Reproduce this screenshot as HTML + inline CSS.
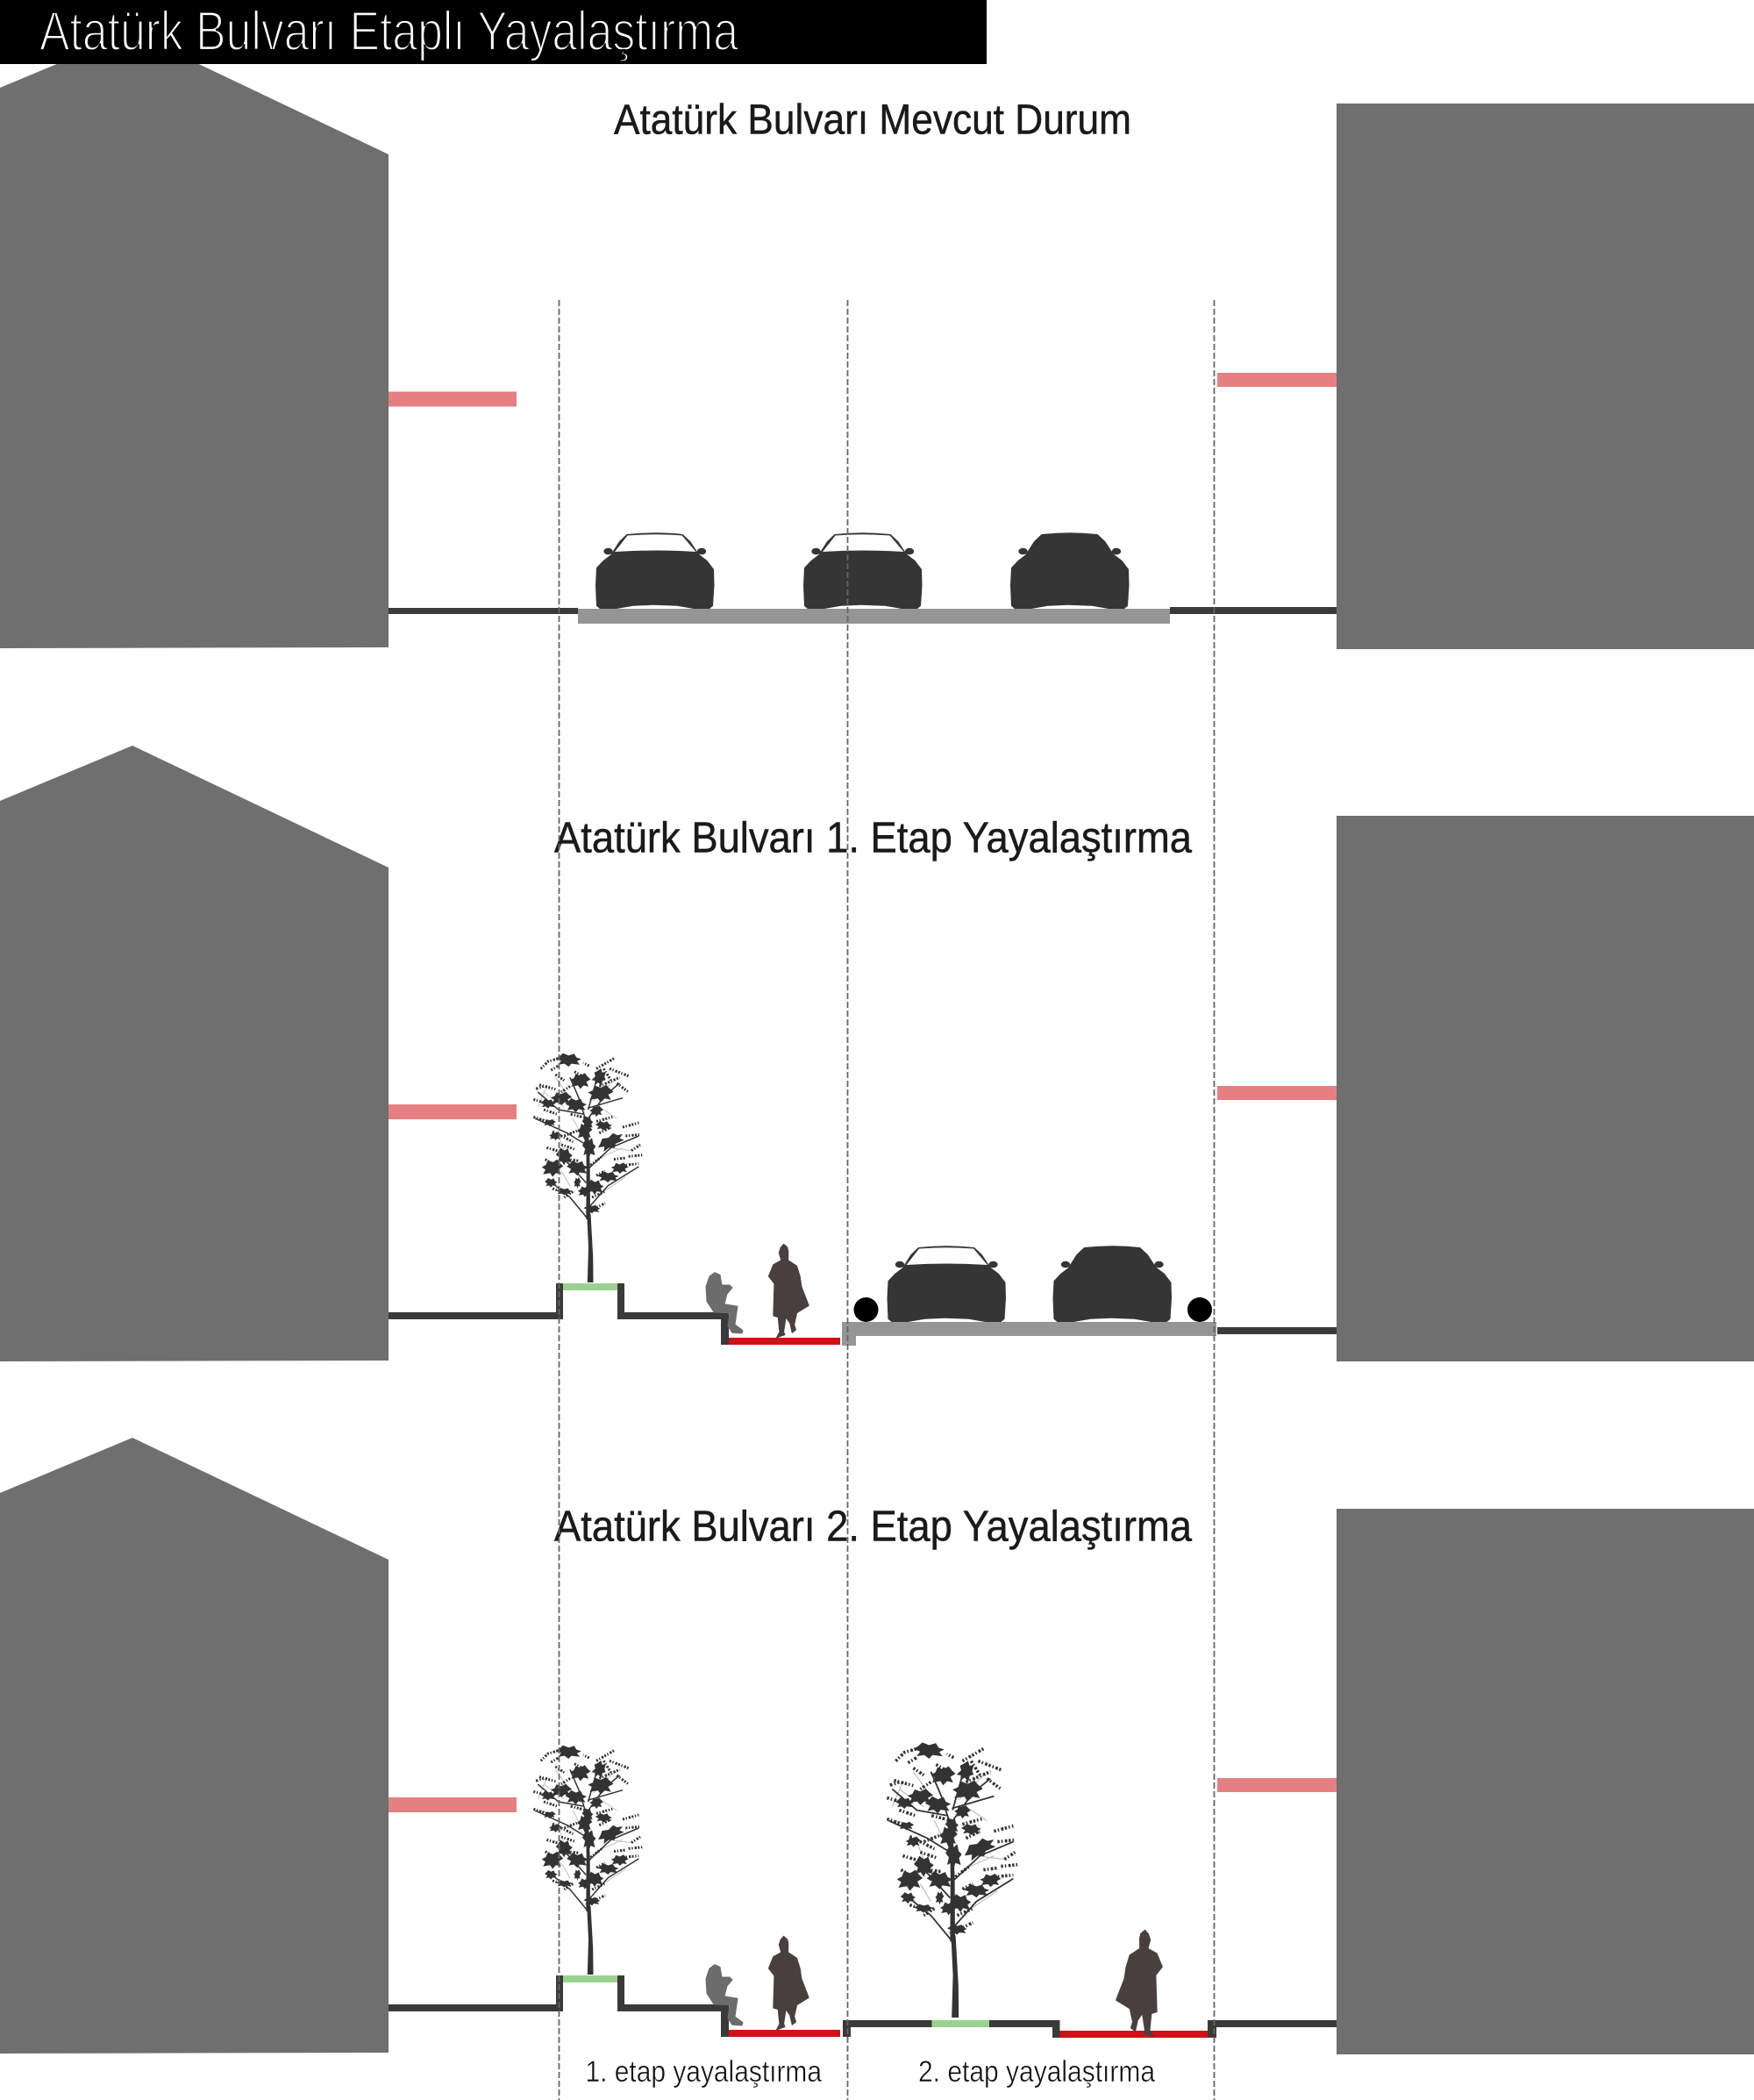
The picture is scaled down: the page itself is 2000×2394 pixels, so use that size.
<!DOCTYPE html>
<html lang="tr">
<head>
<meta charset="utf-8">
<title>Atatürk Bulvarı Etaplı Yayalaştırma</title>
<style>
html,body{margin:0;padding:0;background:#fff}
svg{display:block}
text{font-family:"Liberation Sans",sans-serif}
</style>
</head>
<body>
<svg xmlns="http://www.w3.org/2000/svg" width="2000" height="2394" viewBox="0 0 2000 2394">
<defs>
  <g id="carbody" fill="#353535">
    <path d="M35.6 -85Q68 -88.5 99.5 -85L108.3 -76.7L116 -65L118.6 -61.7L127.4 -55L135 -45L135.5 -26.7L134 -3.3L130 0L112 0L93 -3.3L66 -4.3L43 -3.3L24 0L5 0L1 -3.3L0 -26.7L1 -46.7L8.8 -55L17.6 -61.7L19.5 -65L27 -76.7Z"/>
    <ellipse cx="121" cy="-65.5" rx="5.2" ry="3.8"/>
    <ellipse cx="14.5" cy="-65.5" rx="5.2" ry="3.8"/>
  </g>
  <g id="car1"><use href="#carbody"/><path d="M22 -65L36.5 -83.5Q68 -86 98.7 -83.5L114.4 -65Q68 -68 22 -65Z" fill="#fff"/></g>
  <g id="car2"><use href="#carbody"/></g>
  <path id="person" d="M-0.7 -106.7L3.5 -103L4.5 -98L4.3 -88.3L14.3 -81.7L17.9 -70L19.6 -58.3L27.9 -36.7L14.3 -28.3L11.4 -15L13.2 -9L8.9 -5.7L6.4 -16.7L1.8 -23.3L-0.7 -6.7L0.7 -3.3L-8.9 0L-5.4 -6.7L-7.1 -23.3L-12.5 -25L-11.4 -61.7L-17.9 -70L-12.5 -83.3L-3.6 -88.3L-6 -97L-4 -103Z" fill="#4a3f3f" stroke="#4a3f3f" stroke-width="1" stroke-linejoin="round"/>
  <path id="sit" d="M815 1450.7L821 1453.3L823 1465L832 1465L835 1468L829 1475L826 1486.7L841 1489.3L838 1510L847 1516.7L846 1520L835 1519.3L830 1511.7L832 1496.7L814 1496L806 1483.3L805 1466.7L809 1455Z" fill="#6c6c6c" stroke="#6c6c6c" stroke-linejoin="round"/>
  <polygon id="b1" fill="#333" points="-0.68,-0.14 -0.45,-0.42 -0.3,-0.68 0,-0.45 0.3,-0.62 0.42,-0.25 0.68,-0.08 0.45,0.12 0.6,0.48 0.15,0.38 0,0.68 -0.22,0.38 -0.55,0.48 -0.4,0.08"/>
  <g id="tree">
    <path d="M-3.2 0L-2 -40L-3.8 -78L0 -78L0.5 -78L3.2 -30L3.5 0Z" fill="#333"/>
    <g transform="translate(-73,-267) scale(0.33333)">
      <polygon points="205,585 219,585 218,400 212,250 204,250 206,400" fill="#333"/>
      <g fill="none" stroke="#aaa" stroke-width="2.2">
        <path d="M150 400L110 300M60 150L130 200M250 200L310 240M280 340L360 350M240 380L330 340M120 420L150 470M100 100L150 170M300 110L230 180M70 130L40 200M250 500L340 440M30 240L100 250M190 300L160 240"/>
      </g>
      <g fill="none" stroke="#333" stroke-width="4.5" stroke-linejoin="round">
        <path d="M205 250L180 170L150 100M212 210L240 110M212 585L150 510L100 470M218 540L280 470L385 405M215 410L290 340L385 300M205 330L140 290L30 240M195 225L110 210L40 150M210 205L330 170M205 250L270 160L320 120M205 460L150 400L120 370"/>
      </g>
      <g fill="none" stroke="#333" stroke-width="9" stroke-dasharray="6 5 4 6 7 4">
        <path d="M50 70L75 45L110 35M85 75L110 60M60 130L30 140M45 125L100 140M25 175L60 185M215 60L195 50M240 70L300 35M285 70L350 95M310 120L350 150M250 130L320 100M25 235L70 250M90 285L160 320M130 300L180 280M240 250L295 235M250 290L290 270M330 270L385 255M340 300L390 295M70 340L120 355M65 380L100 400M140 380L180 385M350 370L400 365M360 350L390 330M240 435L270 420M330 400L385 395M90 480L120 490M160 490L130 510M240 545L270 530M220 400L260 370M210 240L150 225M100 90L130 110M165 80L200 100M60 210L105 225M265 70L290 110M150 130L120 150M120 330L165 345M225 510L270 490M300 380L340 375"/>
      </g>
      <use href="#b1" transform="translate(145,40) scale(64,34)"/>
      <use href="#b1" transform="translate(185,112) scale(-52,40)"/>
      <use href="#b1" transform="translate(250,100) rotate(30) scale(34,44)"/>
      <use href="#b1" transform="translate(255,155) scale(-64,44)"/>
      <use href="#b1" transform="translate(75,190) scale(38,24)"/>
      <use href="#b1" transform="translate(120,172) scale(-54,34)"/>
      <use href="#b1" transform="translate(170,195) scale(54,36)"/>
      <use href="#b1" transform="translate(240,215) scale(-34,28)"/>
      <use href="#b1" transform="translate(210,255) scale(28,34)"/>
      <use href="#b1" transform="translate(200,285) scale(-38,44)"/>
      <use href="#b1" transform="translate(265,265) scale(42,24)"/>
      <use href="#b1" transform="translate(215,340) scale(34,54)"/>
      <use href="#b1" transform="translate(290,320) rotate(-30) scale(70,36)"/>
      <use href="#b1" transform="translate(80,255) scale(-32,18)"/>
      <use href="#b1" transform="translate(130,370) scale(42,44)"/>
      <use href="#b1" transform="translate(90,410) scale(-54,44)"/>
      <use href="#b1" transform="translate(175,410) scale(54,38)"/>
      <use href="#b1" transform="translate(85,460) scale(32,24)"/>
      <use href="#b1" transform="translate(175,460) scale(-18,28)"/>
      <use href="#b1" transform="translate(280,440) scale(54,28)"/>
      <use href="#b1" transform="translate(320,410) scale(-44,28)"/>
      <use href="#b1" transform="translate(235,475) scale(44,38)"/>
      <use href="#b1" transform="translate(200,490) scale(-34,28)"/>
      <use href="#b1" transform="translate(130,490) scale(42,18)"/>
      <use href="#b1" transform="translate(225,550) scale(42,22)"/>
      <use href="#b1" transform="translate(100,300) scale(-32,22)"/>
    </g>
  </g>
  <g id="leftwalk">
    <rect x="443" y="1496" width="199" height="8" fill="#3a3a3a"/>
    <rect x="634" y="1463" width="8" height="41" fill="#3a3a3a"/>
    <rect x="642" y="1463" width="63" height="8" fill="#9bd190"/>
    <rect x="704" y="1463" width="8" height="41" fill="#3a3a3a"/>
    <rect x="704" y="1496" width="127" height="8" fill="#3a3a3a"/>
    <rect x="822" y="1496" width="9" height="37" fill="#3a3a3a"/>
    <rect x="831" y="1525" width="127" height="8" fill="#d01116"/>
    <use href="#tree" transform="translate(673,1462)"/>
    <use href="#sit"/>
    <use href="#person" transform="translate(894.3,1525)"/>
  </g>
</defs>

<!-- buildings -->
<g fill="#6f6f6f">
  <polygon points="0,100 151,37 443,176 443,738 0,739"/>
  <polygon points="0,913 151,850 443,989 443,1551 0,1552"/>
  <polygon points="0,1702 151,1639 443,1778 443,2340 0,2341"/>
  <rect x="1524" y="118" width="476" height="622"/>
  <rect x="1524" y="930" width="476" height="622"/>
  <rect x="1524" y="1720" width="476" height="622"/>
</g>
<!-- balconies -->
<g fill="#e67f82">
  <rect x="443" y="446.5" width="146" height="17"/>
  <rect x="443" y="1259" width="146" height="17"/>
  <rect x="443" y="2049" width="146" height="17"/>
  <rect x="1388" y="425" width="136" height="16"/>
  <rect x="1388" y="1238" width="136" height="16"/>
  <rect x="1388" y="2027" width="136" height="16"/>
</g>

<!-- header -->
<rect x="0" y="0" width="1125" height="73" fill="#000"/>
<text x="45" y="57" font-size="63" fill="#fff" stroke="#000" stroke-width="2.2" textLength="797" lengthAdjust="spacingAndGlyphs">Atatürk Bulvarı Etaplı Yayalaştırma</text>

<!-- row 1 -->
<text x="700" y="152.5" font-size="48" fill="#1a1a1a" stroke="#1a1a1a" stroke-width="0.5" textLength="590" lengthAdjust="spacingAndGlyphs">Atatürk Bulvarı Mevcut Durum</text>
<rect x="443" y="693" width="216" height="7" fill="#3a3a3a"/>
<rect x="659" y="694" width="675" height="17" fill="#959595"/>
<rect x="1334" y="692" width="190" height="8" fill="#3a3a3a"/>
<use href="#car1" transform="translate(679,694)"/>
<use href="#car1" transform="translate(916,694)"/>
<use href="#car2" transform="translate(1152,694)"/>

<!-- row 2 -->
<text x="632" y="971.3" font-size="49" fill="#1a1a1a" stroke="#1a1a1a" stroke-width="0.5" textLength="727" lengthAdjust="spacingAndGlyphs">Atatürk Bulvarı 1. Etap Yayalaştırma</text>
<use href="#leftwalk"/>
<polygon points="960,1507 1387,1507 1387,1523 976,1523 976,1534 960,1534" fill="#959595"/>
<rect x="1388" y="1513" width="136" height="8" fill="#3a3a3a"/>
<ellipse cx="987.5" cy="1493" rx="14" ry="14" fill="#000"/>
<ellipse cx="1368" cy="1493" rx="14" ry="14" fill="#000"/>
<use href="#car1" transform="translate(1011.5,1507)"/>
<use href="#car2" transform="translate(1200.5,1507)"/>

<!-- row 3 -->
<text x="632" y="1756.3" font-size="49" fill="#1a1a1a" stroke="#1a1a1a" stroke-width="0.5" textLength="727" lengthAdjust="spacingAndGlyphs">Atatürk Bulvarı 2. Etap Yayalaştırma</text>
<use href="#leftwalk" transform="translate(0,789)"/>
<g fill="#3a3a3a">
  <rect x="961" y="2303" width="9" height="19"/>
  <rect x="961" y="2303" width="101.5" height="8"/>
  <rect x="1128" y="2303" width="80" height="8"/>
  <rect x="1200" y="2303" width="8.5" height="20"/>
  <rect x="1377" y="2303" width="10" height="20"/>
  <rect x="1377" y="2303" width="147" height="8"/>
</g>
<rect x="1062.5" y="2303" width="65.5" height="8" fill="#9bd190"/>
<rect x="1208.5" y="2315" width="168.5" height="8" fill="#d01116"/>
<use href="#tree" transform="translate(1089,2300) scale(1.2)"/>
<use href="#person" transform="translate(1304.7,2322) scale(-1.15,1.14)"/>

<text x="667.5" y="2373" font-size="34" fill="#111" stroke="#fff" stroke-width="0.5" textLength="269.5" lengthAdjust="spacingAndGlyphs">1. etap yayalaştırma</text>
<text x="1047" y="2373" font-size="34" fill="#111" stroke="#fff" stroke-width="0.5" textLength="270" lengthAdjust="spacingAndGlyphs">2. etap yayalaştırma</text>

<!-- dashed guide lines -->
<g stroke="#666" stroke-width="1.8" stroke-dasharray="7 3" fill="none">
  <line x1="637.5" y1="342" x2="637.5" y2="2394"/>
  <line x1="966.5" y1="342" x2="966.5" y2="2394"/>
  <line x1="1384.5" y1="342" x2="1384.5" y2="2394"/>
</g>
</svg>
</body>
</html>
